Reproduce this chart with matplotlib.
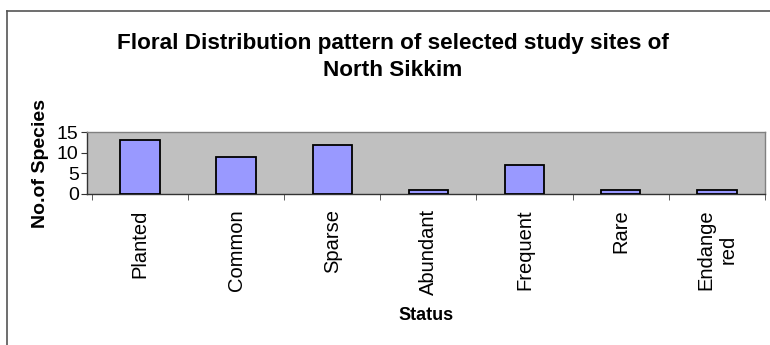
import matplotlib.pyplot as plt
from matplotlib.lines import Line2D

categories = ["Planted", "Common", "Sparse", "Abundant", "Frequent", "Rare", "Endange\nred"]
species_counts = [13, 9, 12, 1, 7, 1, 1]
y_ticks = [0, 5, 10, 15]

plt.rcParams["font.family"] = ["Liberation Sans", "DejaVu Sans"]

fig = plt.figure(figsize=(7.7, 3.45), dpi=100)
ax = fig.add_axes([0.113, 0.4377, 0.8805, 0.1793])

x = list(range(len(categories)))
ax.bar(x, species_counts, width=0.41, color="#9999FF", edgecolor="black", linewidth=1.3, zorder=3)

ax.set_facecolor("#C0C0C0")
ax.set_xlim(-0.55, len(categories) - 0.5)
ax.set_ylim(0, 15)
ax.set_yticks(y_ticks)
ax.set_yticklabels([str(v) for v in y_ticks], fontsize=14)
ax.tick_params(axis="y", length=4, pad=2, color="#333333")

ax.set_xticks(x)
ax.set_xticklabels(categories, rotation=90, fontsize=14.5, va="top", ha="center", multialignment="center")
ax.tick_params(axis="x", which="major", length=0, pad=11)
ax.set_xticks([i - 0.5 for i in x] + [len(categories) - 0.5], minor=True)
ax.tick_params(axis="x", which="minor", length=4, color="#444444")

for side in ["top", "right"]:
    ax.spines[side].set_color("#808080")
    ax.spines[side].set_linewidth(1.0)
for side in ["left", "bottom"]:
    ax.spines[side].set_color("#333333")
    ax.spines[side].set_linewidth(1.0)

ax.set_ylabel("No.of Species", fontsize=14, fontweight="bold", labelpad=6)
ax.set_xlabel("Status", fontsize=13, fontweight="bold", labelpad=8)

fig.text(0.51, 0.835, "Floral Distribution pattern of selected study sites of\nNorth Sikkim",
         ha="center", va="center", fontsize=16.2, fontweight="bold", linespacing=1.35)

# outer chart frame (left and top edges visible)
fig.add_artist(Line2D([0.009, 0.009], [0.968, 0.0], color="#555555", linewidth=1.2, transform=fig.transFigure))
fig.add_artist(Line2D([0.009, 1.0], [0.968, 0.968], color="#555555", linewidth=1.2, transform=fig.transFigure))

fig.savefig("out.png", dpi=100)
